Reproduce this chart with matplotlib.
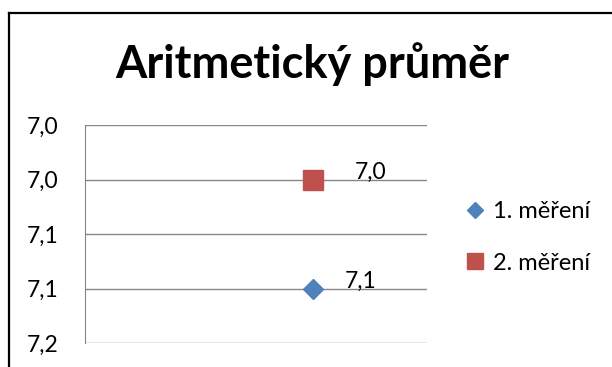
import matplotlib.pyplot as plt
from matplotlib.lines import Line2D
from matplotlib.ticker import FixedLocator, FuncFormatter

plt.rcParams['font.family'] = ['Lato', 'DejaVu Sans']

# průměry obou měření
series = ['1. měření', '2. měření']
values = [7.12, 7.04]
colors = ['#4F81BD', '#C0504D']
markers = ['D', 's']
y_ticks = [7.00, 7.04, 7.08, 7.12, 7.16]

W, H = 612, 367
fig = plt.figure(figsize=(W / 100, H / 100), dpi=100)

# rám grafu (vpravo a dole oříznutý)
fig.add_artist(Line2D([9 / W, 9 / W], [0, 1 - 13 / H], color='black', lw=1.6))
fig.add_artist(Line2D([9 / W, 1], [1 - 13 / H, 1 - 13 / H], color='black', lw=1.6))

left, right, top, bottom = 85, 427, 125, 343
ax = fig.add_axes([left / W, 1 - bottom / H, (right - left) / W, (bottom - top) / H])

def fmt(v):
    return f'{v:.1f}'.replace('.', ',')

fs = 16.5
for name, v, c, m in zip(series, values, colors, markers):
    ax.plot([1], [v], linestyle='none', marker=m, color=c,
            markersize=14.5 if m == 's' else 10.5, label=name, clip_on=False, zorder=3)
    dx = 30 if m == 's' else 23
    ax.annotate(fmt(v), (1, v), xytext=(dx, 5),
                textcoords='offset points', ha='left', va='center', fontsize=fs)

ax.set_xlim(0, 1.5)
ax.set_ylim(7.16, 7.00)
ax.yaxis.set_major_locator(FixedLocator(y_ticks))
ax.yaxis.set_major_formatter(FuncFormatter(lambda v, p: fmt(v)))
ax.tick_params(axis='y', length=0, pad=19, labelsize=fs)
ax.set_xticks([])
ax.grid(axis='y', color='#868686', lw=1)
for s in ['top', 'right', 'bottom']:
    ax.spines[s].set_visible(False)
ax.spines['left'].set_color('#868686')
ax.set_axisbelow(True)

fig.text(312 / W, 1 - 64 / H, 'Aritmetický průměr', ha='center', va='center',
         fontsize=32.5, fontweight='bold')

ax.legend(loc='upper left', bbox_to_anchor=(463 / W, 1 - 201 / H),
          bbox_transform=fig.transFigure, frameon=False, borderpad=0, borderaxespad=0,
          fontsize=17, handletextpad=0.25, labelspacing=1.3, handlelength=1.0,
          markerscale=0.8)

fig.savefig('out.png', dpi=100)
